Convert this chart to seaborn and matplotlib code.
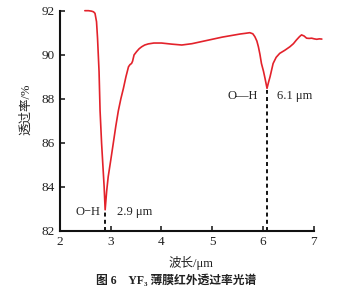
import matplotlib
matplotlib.use("Agg")
import matplotlib.pyplot as plt
import seaborn as sns
import pandas as pd

# Data
wavelength = [2.49, 2.56, 2.62, 2.66, 2.69, 2.72, 2.74, 2.77, 2.79, 2.82, 2.87, 2.89,
              2.92, 2.95, 3.00, 3.05, 3.10, 3.15, 3.20, 3.25, 3.30, 3.35, 3.38, 3.41,
              3.43, 3.46, 3.51, 3.56, 3.61, 3.67, 3.74, 3.85, 4.00, 4.20, 4.40, 4.60,
              4.80, 5.00, 5.20, 5.40, 5.55, 5.65, 5.74, 5.80, 5.84, 5.88, 5.91, 5.94,
              5.97, 6.01, 6.04, 6.08, 6.11, 6.14, 6.17, 6.20, 6.26, 6.33, 6.43, 6.53,
              6.60, 6.66, 6.72, 6.76, 6.81, 6.86, 6.91, 6.96, 7.01, 7.06, 7.11, 7.16]
transmittance = [92.0, 92.0, 91.98, 91.95, 91.88, 91.5, 90.75, 89.23, 87.45, 85.97, 84.0, 82.95,
                 83.8, 84.45, 85.2, 85.97, 86.75, 87.45, 88.0, 88.47, 89.0, 89.45, 89.55, 89.6,
                 89.7, 89.99, 90.14, 90.27, 90.36, 90.44, 90.49, 90.53, 90.53, 90.48, 90.44, 90.5,
                 90.6, 90.7, 90.8, 90.88, 90.94, 90.97, 91.0, 90.95, 90.82, 90.62, 90.36, 90.02,
                 89.6, 89.25, 88.93, 88.47, 88.75, 89.0, 89.3, 89.6, 89.88, 90.06, 90.2, 90.36,
                 90.5, 90.67, 90.82, 90.9, 90.85, 90.75, 90.74, 90.75, 90.72, 90.7, 90.72, 90.71]

peak_pos = [2.89, 6.08]
peak_min = [82.9, 88.4]
peak_labels = ["2.9 μm", "6.1 μm"]
group_label = ["O−H", "O—H"]

xticks = [2, 3, 4, 5, 6, 7]
yticks = [82, 84, 86, 88, 90, 92]

df = pd.DataFrame({"wl": wavelength, "T": transmittance})

sns.set_theme(style="ticks")
plt.rcParams['font.family'] = ['Liberation Serif', 'Noto Sans CJK SC', 'DejaVu Sans']

fig = plt.figure(figsize=(3.62, 2.96), dpi=100)
ax = fig.add_axes([0.1657, 0.2206, 0.7009, 0.7433])

sns.lineplot(data=df, x="wl", y="T", ax=ax, color="#e3222b", lw=1.2,
             clip_on=False, sort=False)

for xp, ym in zip(peak_pos, peak_min):
    ax.plot([xp, xp], [82, ym], color="black", lw=1.3, ls=(0, (2.2, 1.8)),
            clip_on=False)

# annotations
ax.text(2.79, 82.85, group_label[0], ha="right", va="center", fontsize=9, color="#222222")
ax.text(3.12, 82.85, peak_labels[0], ha="left", va="center", fontsize=9, color="#222222")
ax.text(5.89, 88.14, group_label[1], ha="right", va="center", fontsize=9, color="#222222")
ax.text(6.28, 88.14, peak_labels[1], ha="left", va="center", fontsize=9, color="#222222")

ax.set_xlim(2, 7)
ax.set_ylim(82, 92)
ax.set_xticks(xticks)
ax.set_yticks(yticks)
ax.tick_params(direction="in", length=3.5, width=1.2, labelsize=9.5, pad=4, colors="#222222")
for s in ["left", "bottom"]:
    ax.spines[s].set_linewidth(1.5)
    ax.spines[s].set_color("#111111")
sns.despine(ax=ax)

ax.set_xlabel("波长/μm", fontsize=9, color="#222222")
ax.set_ylabel("透过率/%", fontsize=9, color="#222222")
ax.xaxis.set_label_coords(0.516, -0.115)
ax.yaxis.set_label_coords(-0.11, 0.553)

fig.text(0.486, 0.05, "图 6　YF₃ 薄膜红外透过率光谱", ha="center", va="center",
         fontsize=8.5, fontweight="bold", color="#222222")

fig.savefig("out.png", dpi=100)
